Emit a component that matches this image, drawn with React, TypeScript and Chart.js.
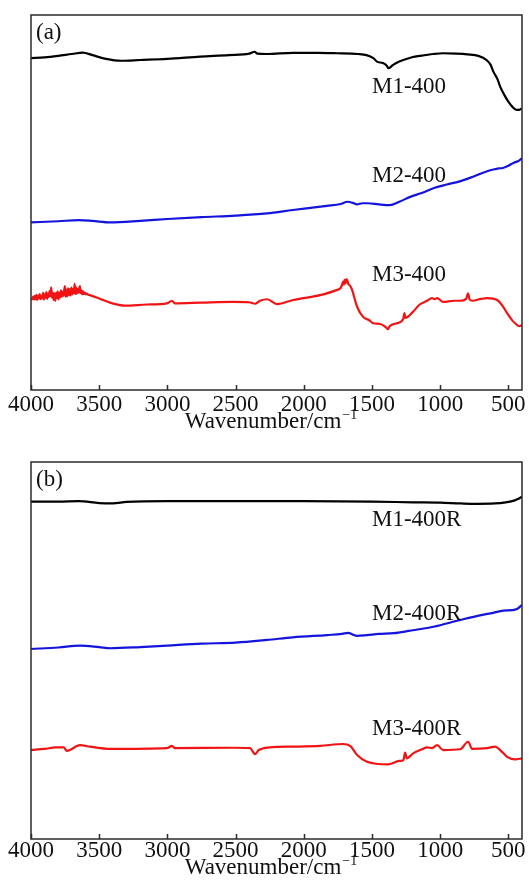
import { useEffect, useRef } from "react";
import { Chart, registerables } from "chart.js";

Chart.register(...registerables);

// Shared x-axis ticks (wavenumber, cm^-1)
const TICK_VALUES = [4000, 3500, 3000, 2500, 2000, 1500, 1000, 500];
const WN_MIN = 400;
const WN_MAX = 4000;

// ---- Panel (a): calcined samples ----
const M1_400_WN = [4000, 3900, 3800, 3700, 3620, 3550, 3450, 3340, 3200, 3000, 2760, 2550, 2400, 2360, 2340, 2270, 2080, 1900, 1760, 1600, 1540, 1490, 1460, 1420, 1390, 1380, 1345, 1300, 1270, 1200, 1150, 1050, 980, 880, 800, 720, 660, 630, 610, 580, 560, 530, 500, 470, 440, 420, 400];
const M1_400_T = [88.5, 88.7, 89.1, 89.6, 89.95, 89.3, 88.3, 87.8, 88.0, 88.3, 88.9, 89.3, 89.7, 90.2, 89.7, 89.6, 89.9, 89.9, 89.8, 89.6, 89.3, 88.5, 87.5, 87.2, 86.4, 85.8, 86.7, 87.6, 88.0, 88.8, 89.1, 89.6, 89.8, 89.7, 89.5, 89.1, 88.0, 86.7, 84.9, 82.9, 80.9, 78.7, 76.9, 75.5, 74.7, 74.7, 75.1];

const M2_400_WN = [4000, 3800, 3650, 3550, 3420, 3200, 3000, 2750, 2500, 2270, 2080, 1830, 1730, 1680, 1640, 1610, 1570, 1530, 1450, 1370, 1300, 1220, 1130, 1050, 950, 850, 750, 650, 610, 570, 540, 500, 460, 430, 400];
const M2_400_T = [44.7, 45.0, 45.3, 45.1, 44.7, 45.1, 45.6, 46.1, 46.5, 47.1, 48.0, 49.1, 49.6, 50.2, 49.9, 49.5, 49.8, 49.8, 49.5, 49.3, 50.2, 51.5, 52.6, 53.8, 54.8, 55.7, 57.0, 58.4, 58.8, 59.1, 59.2, 59.8, 60.6, 61.0, 61.8];

const M3_400_WN = [4000, 3990, 3984, 3978, 3972, 3966, 3960, 3954, 3948, 3942, 3936, 3930, 3924, 3918, 3912, 3906, 3900, 3894, 3888, 3882, 3876, 3870, 3864, 3858, 3852, 3846, 3840, 3834, 3828, 3822, 3816, 3810, 3804, 3798, 3792, 3786, 3780, 3774, 3768, 3762, 3756, 3751, 3746, 3740, 3734, 3728, 3722, 3716, 3710, 3704, 3698, 3692, 3686, 3680, 3675, 3670, 3664, 3658, 3652, 3646, 3641, 3636, 3630, 3624, 3618, 3612, 3605, 3598, 3590, 3580, 3568, 3500, 3421, 3311, 3150, 3003, 2966, 2945, 2750, 2519, 2400, 2357, 2321, 2269, 2196, 2078, 1880, 1756, 1730, 1720, 1712, 1706, 1700, 1694, 1688, 1682, 1672, 1660, 1646, 1609, 1565, 1520, 1492, 1440, 1400, 1382, 1370, 1316, 1270, 1262, 1255, 1198, 1150, 1096, 1060, 1040, 1022, 978, 900, 853, 810, 795, 785, 765, 700, 655, 582, 540, 509, 470, 450, 420, 400];
const M3_400_T = [24.2, 24.3, 24.9, 24.1, 25.1, 24.2, 25.4, 24.0, 25.2, 24.5, 25.6, 24.2, 25.0, 24.4, 25.9, 24.1, 25.5, 24.6, 26.1, 24.3, 25.7, 24.8, 26.4, 25.0, 27.4, 24.6, 26.0, 24.0, 25.8, 23.8, 25.9, 24.5, 26.3, 24.2, 25.9, 24.7, 26.6, 24.9, 26.2, 25.1, 26.8, 27.7, 24.9, 26.7, 25.0, 27.1, 25.3, 26.9, 25.2, 27.3, 25.5, 27.0, 25.8, 28.3, 25.6, 27.4, 25.7, 27.0, 25.9, 27.2, 27.7, 25.8, 26.6, 25.5, 26.3, 25.6, 26.0, 25.5, 25.7, 25.4, 25.3, 24.4, 23.3, 22.5, 22.8, 23.1, 23.8, 23.1, 23.3, 23.5, 23.4, 23.0, 23.8, 24.2, 22.9, 24.0, 25.3, 26.7, 27.2, 28.0, 28.9, 28.1, 29.4, 28.4, 29.6, 29.3, 28.2, 27.8, 26.7, 22.2, 19.5, 18.6, 17.8, 17.6, 16.8, 16.2, 17.0, 17.8, 19.0, 20.5, 19.2, 20.9, 22.8, 23.8, 24.5, 24.2, 24.5, 23.5, 23.8, 23.8, 24.3, 25.8, 24.2, 23.8, 24.3, 24.5, 24.0, 22.3, 20.5, 18.5, 17.8, 17.0, 17.3];

// ---- Panel (b): regenerated samples ----
const M1_400R_WN = [4000, 3800, 3650, 3500, 3400, 3300, 3000, 2500, 2000, 1500, 1200, 1000, 850, 730, 600, 520, 465, 430, 400];
const M1_400R_T = [89.5, 89.5, 89.6, 89.1, 89.0, 89.4, 89.6, 89.6, 89.6, 89.5, 89.3, 89.2, 89.0, 88.9, 89.0, 89.3, 89.7, 90.2, 90.8];

const M2_400R_WN = [4000, 3800, 3640, 3500, 3420, 3200, 3000, 2750, 2500, 2270, 2080, 1830, 1720, 1675, 1640, 1610, 1536, 1450, 1340, 1230, 1050, 853, 700, 611, 537, 470, 436, 400];
const M2_400R_T = [50.4, 50.8, 51.3, 50.9, 50.6, 50.9, 51.3, 51.8, 52.1, 52.8, 53.5, 54.1, 54.4, 54.7, 54.2, 53.9, 54.1, 54.4, 54.6, 55.2, 56.3, 58.1, 59.4, 60.0, 60.6, 60.7, 61.0, 62.1];

const M3_400R_WN = [4000, 3900, 3820, 3760, 3737, 3641, 3568, 3421, 3003, 2966, 2945, 2519, 2394, 2357, 2330, 2250, 2078, 1880, 1712, 1660, 1609, 1536, 1382, 1300, 1270, 1257, 1245, 1198, 1132, 1096, 1060, 1022, 978, 853, 795, 765, 655, 597, 560, 509, 450, 400];
const M3_400R_T = [23.6, 23.9, 24.3, 24.3, 23.4, 24.9, 24.5, 23.9, 24.1, 24.7, 24.1, 24.2, 24.1, 22.5, 23.6, 24.3, 24.5, 24.7, 25.2, 24.7, 22.3, 20.5, 19.8, 20.7, 20.9, 22.9, 21.4, 22.7, 23.8, 24.3, 24.1, 24.9, 23.6, 23.8, 25.8, 23.9, 24.1, 24.5, 23.6, 21.8, 21.1, 21.4];

// Curve label anchors: left edge wavenumber, and height on the 0-100 offset scale
const LABEL_WN = 1500;
const LABELS_A = ["M1-400", "M2-400", "M3-400"];
const LABEL_Y_A = [80.9, 57.1, 30.7];
const LABELS_B = ["M1-400R", "M2-400R", "M3-400R"];
const LABEL_Y_B = [84.6, 59.7, 29.2];

const COLORS = ["#000000", "#1414dc", "#f01414"];
const SERIF = '"Liberation Serif", "Times New Roman", serif';

type PanelSpec = {
  letter: string;
  series: { wn: number[]; t: number[] }[];
  labels: string[];
  labelY: number[];
  axisHeight: number;
  tickPad: number;
  titleBaseline: number;
};

function toPoints(wn: number[], t: number[]) {
  return wn.map((w, i) => ({ x: w, y: t[i] }));
}

function makeConfig(spec: PanelSpec): any {
  const decor = {
    id: "panelDecor",
    afterDraw(chart: any) {
      const { ctx, chartArea: a, scales } = chart;
      const xs = scales.x;
      const ys = scales.y;
      ctx.save();
      // frame
      ctx.strokeStyle = "#2b2b2b";
      ctx.lineWidth = 1.5;
      ctx.strokeRect(a.left, a.top, a.right - a.left, a.bottom - a.top);
      // inward tick marks on the bottom axis
      ctx.beginPath();
      for (const v of TICK_VALUES) {
        const px = Math.round(xs.getPixelForValue(v)) + 0.5;
        ctx.moveTo(px, a.bottom);
        ctx.lineTo(px, a.bottom - 5);
      }
      ctx.stroke();

      ctx.fillStyle = "#111";
      ctx.textAlign = "left";
      ctx.textBaseline = "middle";
      ctx.font = `23px ${SERIF}`;
      // panel letter
      ctx.fillText(spec.letter, a.left + 5, a.top + 18);
      // curve labels
      spec.labels.forEach((lab, i) => {
        ctx.fillText(lab, xs.getPixelForValue(LABEL_WN), ys.getPixelForValue(spec.labelY[i]));
      });

      // axis title with superscript
      const main = "Wavenumber/cm";
      const sup = "\u22121";
      ctx.textBaseline = "alphabetic";
      ctx.font = `23px ${SERIF}`;
      const wMain = ctx.measureText(main).width;
      ctx.font = `14px ${SERIF}`;
      const wSup = ctx.measureText(sup).width;
      const cx = (a.left + a.right) / 2 - 6;
      const x0 = cx - (wMain + wSup) / 2;
      const by = a.bottom + spec.titleBaseline;
      ctx.font = `23px ${SERIF}`;
      ctx.fillText(main, x0, by);
      ctx.font = `14px ${SERIF}`;
      ctx.fillText(sup, x0 + wMain + 1, by - 9);
      ctx.restore();
    },
  };

  return {
    type: "line",
    data: {
      datasets: spec.series.map((s, i) => ({
        data: toPoints(s.wn, s.t),
        borderColor: COLORS[i],
        borderWidth: 2.2,
        pointRadius: 0,
        tension: 0,
        cubicInterpolationMode: "monotone",
        fill: false,
      })),
    },
    options: {
      responsive: false,
      animation: false,
      layout: { padding: { left: 31, right: 7, top: 15, bottom: 0 } },
      plugins: { legend: { display: false }, tooltip: { enabled: false } },
      scales: {
        x: {
          type: "linear",
          reverse: true,
          min: WN_MIN,
          max: WN_MAX,
          grid: { display: false, drawTicks: false },
          border: { display: false },
          afterBuildTicks: (scale: any) => {
            scale.ticks = TICK_VALUES.map((v) => ({ value: v }));
          },
          afterFit: (scale: any) => {
            scale.height = spec.axisHeight;
            scale.paddingLeft = 0;
            scale.paddingRight = 0;
          },
          ticks: {
            autoSkip: false,
            maxRotation: 0,
            minRotation: 0,
            padding: spec.tickPad,
            color: "#111",
            font: { family: SERIF, size: 23 },
            callback: (v: any) => String(v),
          },
        },
        y: { display: false, min: 0, max: 100 },
      },
    },
    plugins: [decor],
  };
}

function Panel({ spec }: { spec: PanelSpec }) {
  const ref = useRef<HTMLCanvasElement | null>(null);
  useEffect(() => {
    if (!ref.current) return;
    const chart = new Chart(ref.current, makeConfig(spec));
    return () => chart.destroy();
  }, [spec]);
  return <canvas ref={ref} width={529} height={447} style={{ display: "block", width: 529, height: 447 }} />;
}

const PANEL_A: PanelSpec = {
  letter: "(a)",
  series: [
    { wn: M1_400_WN, t: M1_400_T },
    { wn: M2_400_WN, t: M2_400_T },
    { wn: M3_400_WN, t: M3_400_T },
  ],
  labels: LABELS_A,
  labelY: LABEL_Y_A,
  axisHeight: 57,
  tickPad: 1,
  titleBaseline: 38,
};

const PANEL_B: PanelSpec = {
  letter: "(b)",
  series: [
    { wn: M1_400R_WN, t: M1_400R_T },
    { wn: M2_400R_WN, t: M2_400R_T },
    { wn: M3_400R_WN, t: M3_400R_T },
  ],
  labels: LABELS_B,
  labelY: LABEL_Y_B,
  axisHeight: 55,
  tickPad: -2,
  titleBaseline: 35,
};

export default function App() {
  return (
    <div style={{ position: "fixed", left: 0, top: 0, width: 529, height: 894, background: "#fff" }}>
      <Panel spec={PANEL_A} />
      <Panel spec={PANEL_B} />
    </div>
  );
}
